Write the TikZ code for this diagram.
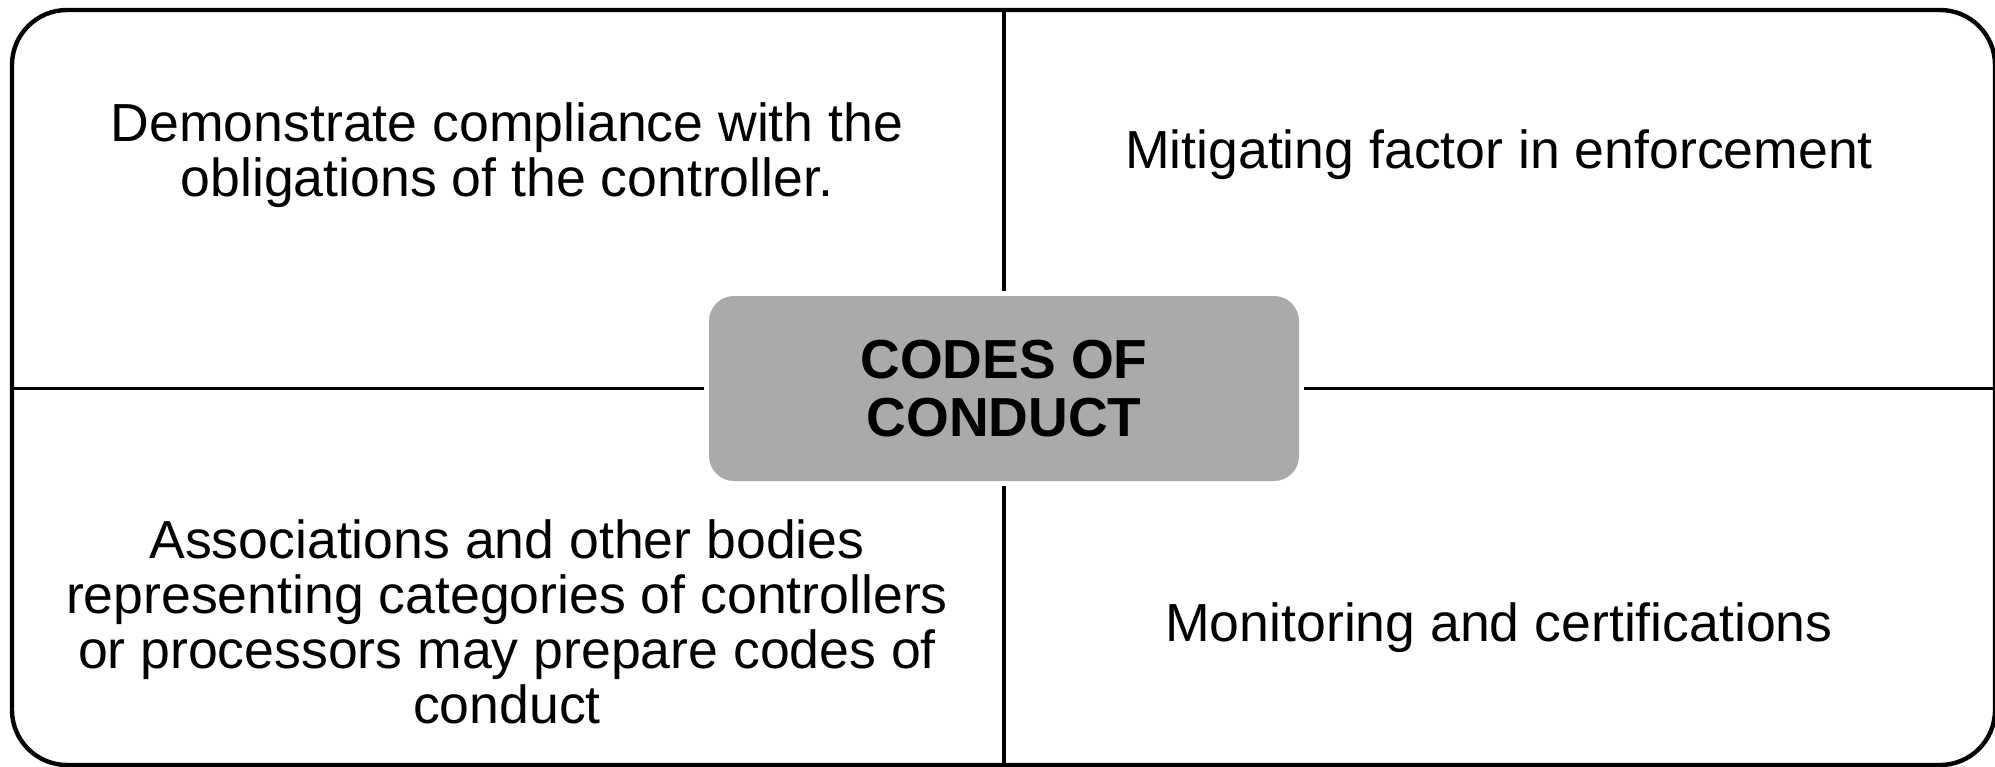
\documentclass[tikz,border=0pt]{standalone}
\usepackage{fontspec}
\setmainfont{Liberation Sans}
\definecolor{boxgray}{HTML}{AAAAAA}
\begin{document}
\begin{tikzpicture}[x=0.5pt,y=-0.5pt,
  frame/.style={line width=2.2pt, rounded corners=27.5pt},
  divider/.style={line width=1.9pt},
  hub/.style={fill=boxgray, rounded corners=12.5pt, minimum width=295pt, minimum height=92.5pt, inner sep=0pt, align=center, font=\bfseries\fontsize{27.5}{29}\selectfont},
  lbl/.style={inner sep=0pt, align=center, font=\fontsize{26.8}{27.5}\selectfont}]
\useasboundingbox (0,0) rectangle (1995,766);
\draw[frame] (12,10) rectangle (1995,765);
\node[hub] (hub) at (1004,388.5) {CODES OF\\CONDUCT};
\coordinate (top) at (1004,10);
\coordinate (bot) at (1004,766);
\coordinate (lft) at (12,388.5);
\coordinate (rgt) at (1995,388.5);
\draw[divider] (top) -- ([yshift=2.5pt]hub.north);
\draw[divider] ([yshift=-2.5pt]hub.south) -- (bot);
\draw[divider] (lft) -- ([xshift=-2.5pt]hub.west);
\draw[divider] ([xshift=2.5pt]hub.east) -- (rgt);
\node[lbl] (tl) at (507,155) {Demonstrate compliance with the\\obligations of the controller.};
\node[lbl] (tr) at (1499,155) {Mitigating factor in enforcement};
\node[lbl] (bl) at (507,622) {Associations and other bodies\\representing categories of controllers\\or processors may prepare codes of\\conduct};
\node[lbl] (br) at (1499,628) {Monitoring and certifications};
\end{tikzpicture}
\end{document}
